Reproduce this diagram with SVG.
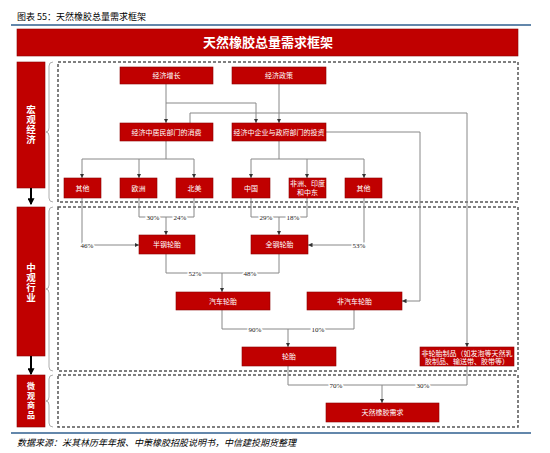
<svg xmlns="http://www.w3.org/2000/svg" width="550" height="453" viewBox="0 0 550 453">
<style>
.node rect{fill:#c00000;stroke:#8a0000;stroke-width:0.6}
.node text{fill:#fff;font-family:"Noto Sans CJK SC","Noto Sans",sans-serif;font-size:7px;text-anchor:middle}
.side rect{fill:#c00000;stroke:#8a0000;stroke-width:0.6}
.side text{fill:#fff;font-family:"Noto Sans CJK SC",sans-serif;font-size:9.5px;font-weight:bold;text-anchor:middle;writing-mode:vertical-rl;letter-spacing:0.5px}
.side text.sm{font-size:8px;letter-spacing:1.5px}
.sec{fill:none;stroke:#555;stroke-width:1.5;stroke-dasharray:3 2}
.brace{fill:none;stroke:#999;stroke-width:0.8}
.conn path{fill:none;stroke:#888;stroke-width:1}
.arr{marker-end:url(#ah)}
.pct{font-family:"Liberation Serif",serif;font-size:7px;fill:#222;text-anchor:middle;paint-order:stroke;stroke:#fff;stroke-width:3px}
</style>
<defs>
<marker id="ah" viewBox="0 0 6 6" refX="6" refY="3" markerWidth="4.5" markerHeight="4.5" orient="auto" markerUnits="userSpaceOnUse">
<path d="M0,0 L6,3 L0,6 z" fill="#333"/>
</marker>
<marker id="bh" viewBox="0 0 6 6" refX="5" refY="3" markerWidth="3.5" markerHeight="3.5" orient="auto">
<path d="M0,0 L6,3 L0,6 z" fill="#000"/>
</marker>
</defs>
<rect width="550" height="453" fill="#fff"/>
<text x="17" y="20" font-family="Noto Sans CJK SC,sans-serif" font-size="9" fill="#000">图表 55：天然橡胶总量需求框架</text>
<line x1="11" y1="25" x2="531" y2="25" stroke="#2f5f8f" stroke-width="1.5"/>
<g id="banner">
<rect x="17" y="29" width="501" height="27" fill="#c00000" stroke="#8a0000" stroke-width="0.6"/>
<text x="268" y="47" font-family="Noto Sans CJK SC,sans-serif" font-size="13" font-weight="bold" fill="#fff" text-anchor="middle">天然橡胶总量需求框架</text>
</g>
<g id="sections">
<rect class="sec" x="58" y="62" width="460" height="140"/>
<rect class="sec" x="58" y="207" width="460" height="164"/>
<rect class="sec" x="58" y="375" width="460" height="52"/>
<path class="brace" d="M53,62 Q49,62 49,66 L49,128 Q49,132 46,132 Q49,132 49,136 L49,198 Q49,202 53,202"/>
<path class="brace" d="M53,207 Q49,207 49,211 L49,285 Q49,289 46,289 Q49,289 49,293 L49,367 Q49,371 53,371"/>
<path class="brace" d="M53,375 Q49,375 49,379 L49,397 Q49,401 46,401 Q49,401 49,405 L49,423 Q49,427 53,427"/>
</g>
<g id="side-macro" class="side">
<rect x="17" y="62" width="28" height="126"/>
<text x="31" y="125">宏观经济</text>
</g>
<g id="side-meso" class="side">
<rect x="17" y="207" width="28" height="149"/>
<text x="31" y="283">中观行业</text>
</g>
<g id="side-micro" class="side">
<rect x="17" y="375" width="28" height="52"/>
<text class="sm" x="31" y="401">微观商品</text>
</g>
<g id="side-arrows" stroke="#000" stroke-width="2">
<line x1="31" y1="188" x2="31" y2="204" marker-end="url(#bh)"/>
<line x1="31" y1="356" x2="31" y2="374" marker-end="url(#bh)"/>
</g>
<g id="connectors" class="conn">
<path class="arr" d="M166,84 V123"/>
<path class="arr" d="M166,103 H256 V123"/>
<path class="arr" d="M279,84 V123"/>
<path class="arr" d="M190,123 V113 H467 V347"/>
<path class="arr" d="M326,132 H420 V301 H402"/>
<path d="M166,141 V159 M82,159 H194"/>
<path class="arr" d="M82,159 V178"/>
<path class="arr" d="M139,159 V178"/>
<path class="arr" d="M194,159 V178"/>
<path d="M279,141 V159 M251,159 H364"/>
<path class="arr" d="M251,159 V178"/>
<path class="arr" d="M307,159 V178"/>
<path class="arr" d="M364,159 V178"/>
<path class="arr" d="M82,198 V245 H139"/>
<path d="M139,198 V217 H194 V198"/>
<path class="arr" d="M166,217 V235"/>
<path d="M251,198 V217 H307 V198"/>
<path class="arr" d="M279,217 V235"/>
<path class="arr" d="M364,198 V245 H308"/>
<path d="M166,254 V273 H279 V254"/>
<path class="arr" d="M222,273 V292"/>
<path d="M222,310 V329 H354 V310"/>
<path class="arr" d="M288,329 V347"/>
<path d="M288,366 V385 H467 V366"/>
<path class="arr" d="M382,385 V403"/>
<text class="pct" x="87" y="247.5">46%</text>
<text class="pct" x="153" y="219.5">30%</text>
<text class="pct" x="180" y="219.5">24%</text>
<text class="pct" x="266" y="219.5">29%</text>
<text class="pct" x="293" y="219.5">18%</text>
<text class="pct" x="359" y="247.5">53%</text>
<text class="pct" x="195" y="275.5">52%</text>
<text class="pct" x="250" y="275.5">48%</text>
<text class="pct" x="255" y="331.5">90%</text>
<text class="pct" x="318" y="331.5">10%</text>
<text class="pct" x="336" y="387.5">70%</text>
<text class="pct" x="423" y="387.5">30%</text>
</g>
<g id="n1" class="node"><rect x="120" y="67" width="93" height="17"/><text x="166.5" y="78">经济增长</text></g>
<g id="n2" class="node"><rect x="232" y="67" width="94" height="17"/><text x="279" y="78">经济政策</text></g>
<g id="n3" class="node"><rect x="120" y="123" width="93" height="18"/><text x="166.5" y="134.5">经济中居民部门的消费</text></g>
<g id="n4" class="node"><rect x="232" y="123" width="94" height="18"/><text x="279" y="134.5">经济中企业与政府部门的投资</text></g>
<g id="n5" class="node"><rect x="64" y="178" width="37" height="20"/><text x="82.5" y="190.5">其他</text></g>
<g id="n6" class="node"><rect x="120" y="178" width="37" height="20"/><text x="138.5" y="190.5">欧洲</text></g>
<g id="n7" class="node"><rect x="176" y="178" width="37" height="20"/><text x="194.5" y="190.5">北美</text></g>
<g id="n8" class="node"><rect x="232" y="178" width="38" height="20"/><text x="251" y="190.5">中国</text></g>
<g id="n9" class="node"><rect x="289" y="178" width="37" height="20"/><text x="307.5" y="186">非洲、印度</text><text x="307.5" y="195">和中东</text></g>
<g id="n10" class="node"><rect x="345" y="178" width="37" height="20"/><text x="363.5" y="190.5">其他</text></g>
<g id="n11" class="node"><rect x="139" y="235" width="56" height="19"/><text x="167" y="247">半钢轮胎</text></g>
<g id="n12" class="node"><rect x="251" y="235" width="57" height="19"/><text x="279.5" y="247">全钢轮胎</text></g>
<g id="n13" class="node"><rect x="176" y="292" width="94" height="18"/><text x="223" y="303.5">汽车轮胎</text></g>
<g id="n14" class="node"><rect x="307" y="292" width="95" height="18"/><text x="354.5" y="303.5">非汽车轮胎</text></g>
<g id="n15" class="node"><rect x="242" y="347" width="94" height="19"/><text x="289" y="359">轮胎</text></g>
<g id="n16" class="node"><rect x="420" y="347" width="94" height="19"/><text x="467" y="355.5">非轮胎制品（如发泡等天然乳</text><text x="467" y="364">胶制品、输送带、胶带等）</text></g>
<g id="n17" class="node"><rect x="326" y="403" width="113" height="19"/><text x="382.5" y="415">天然橡胶需求</text></g>
<line x1="11" y1="433" x2="531" y2="433" stroke="#2f5f8f" stroke-width="1.5"/>
<text x="17" y="446" font-family="Noto Sans CJK SC,sans-serif" font-size="9" font-style="italic" fill="#000">数据来源：米其林历年年报、中策橡胶招股说明书，中信建投期货整理</text>
</svg>
